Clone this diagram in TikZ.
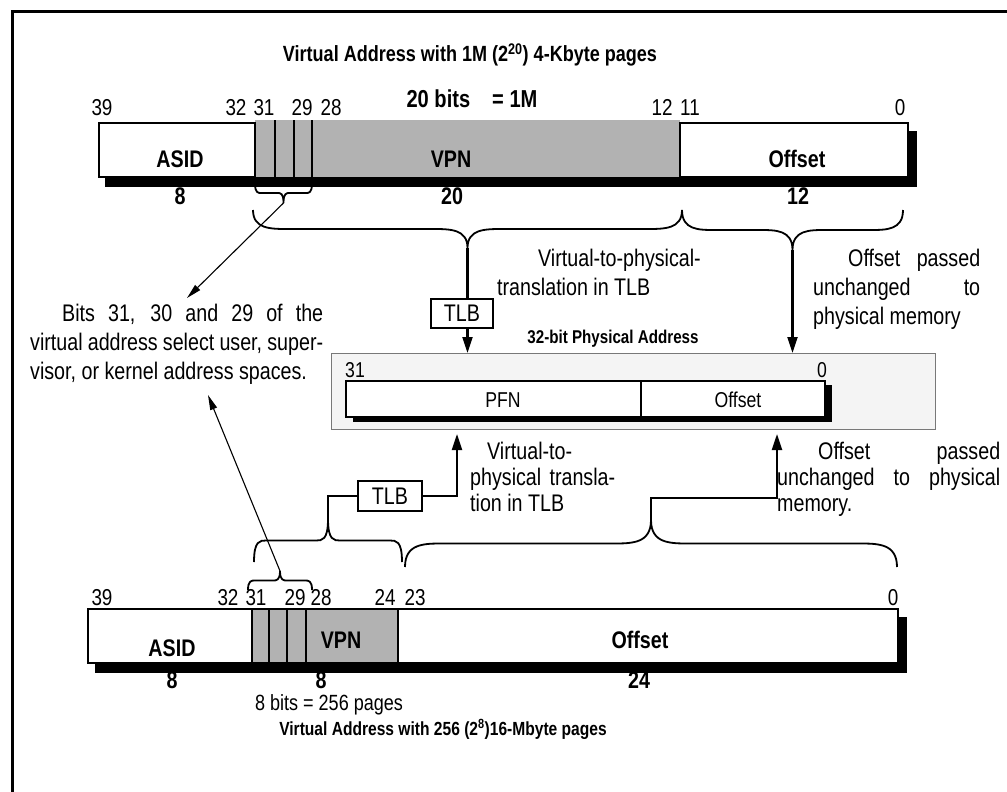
\documentclass[tikz,border=0pt]{standalone}
\usepackage{fontspec}
\setmainfont{Liberation Sans}[FakeStretch=0.82]
\usetikzlibrary{arrows.meta}
\definecolor{vpngray}{RGB}{178,178,178}
\definecolor{physfill}{RGB}{244,244,244}
\definecolor{physline}{RGB}{120,120,120}
\newcommand\fs[2]{\fontsize{#1}{#2}\selectfont}
% brace: x1, x2, yend, depth (signed), curve width, tip name
\newcommand\hbrace[6]{%
  \pgfmathsetmacro\bxm{(#1+#2)/2}%
  \pgfmathsetmacro\bym{#3+(#4)/2}%
  \pgfmathsetmacro\byt{#3+(#4)}%
  \draw[bracepath] (#1,#3) .. controls (#1,\bym) and ({#1+(#5)/2},\bym) .. ({#1+#5},\bym)
    -- ({\bxm-#5},\bym) .. controls ({\bxm-(#5)/2},\bym) and (\bxm,\bym) .. (\bxm,\byt)
    .. controls (\bxm,\bym) and ({\bxm+(#5)/2},\bym) .. ({\bxm+#5},\bym)
    -- ({#2-#5},\bym) .. controls ({#2-(#5)/2},\bym) and (#2,\bym) .. (#2,#3);
  \coordinate (#6) at (\bxm,\byt);}
\begin{document}
\begin{tikzpicture}[x=1pt,y=-1pt,
  field/.style={draw, line width=1.8, fill=white, anchor=north west, inner sep=0, outer sep=0},
  grayfield/.style={fill=vpngray, anchor=north west, inner sep=0, outer sep=0},
  divider/.style={line width=1.8},
  num/.style={anchor=base, inner sep=0, font=\fs{23}{27}},
  lab/.style={anchor=base, inner sep=0, font=\bfseries\fs{24}{28}},
  notetext/.style={anchor=north west, inner sep=0, align=left, font=\fs{24}{29}},
  tlbbox/.style={draw, line width=2, fill=white, inner sep=0, minimum width=62, minimum height=29, font=\fs{24}{28}},
  flow/.style={line width=2.2},
  arrowed/.style={-{Triangle[length=16pt,width=10pt]}},
  thinarrow/.style={line width=1.1, -{Triangle[length=15pt,width=7pt]}},
  bracepath/.style={line width=1.8},
  physlab/.style={anchor=base, inner sep=0, font=\fs{21.5}{25}}]
\useasboundingbox (0,0) rectangle (1007,792);
\fill[white] (0,0) rectangle (1007,792);
% outer frame (runs off the page on the right and bottom)
\draw[line width=3] (12,810) -- (12,11.5) -- (1015,11.5);

% ---------- top virtual address ----------
\node[anchor=base, inner sep=0, font=\bfseries\fs{22}{26}] (title1) at (470,62)
  {Virtual Address with 1M (2\textsuperscript{20}) 4-Kbyte pages};
\node[anchor=base, inner sep=0, font=\bfseries\fs{24.5}{28}] (bits1) at (472,107)
  {20 bits\hspace{22pt}= 1M};
\fill (105,131) rectangle (917,187);
\node[grayfield, minimum width=425, minimum height=57] (vpn1) at (255,120) {};
\foreach \x in {275,294,312} \draw[divider] (\x,120) -- (\x,177);
\node[field, minimum width=156, minimum height=54] (asid1) at (99,123) {};
\node[field, minimum width=228, minimum height=54] (off1) at (680,123) {};
\node[num] (n39a) at (102,115) {39};
\node[num] (n32a) at (236,115) {32};
\node[num] (n31a) at (264,115) {31};
\node[num] (n29a) at (302,115) {29};
\node[num] (n28a) at (331,115) {28};
\node[num] (n12a) at (662,115) {12};
\node[num] (n11a) at (690,115) {11};
\node[num] (n0a) at (900,115) {0};
\node[lab] (asidlab1) at (180,167) {ASID};
\node[lab] (vpnlab1) at (451,167) {VPN};
\node[lab] (offlab1) at (797,167) {Offset};
\node[lab] (w8a) at (180,204) {8};
\node[lab] (w20a) at (452,204) {20};
\node[lab] (w12a) at (798,204) {12};

\hbrace{255}{312}{183}{20}{6}{smalltip1}
\hbrace{253}{682}{210}{38}{35}{vpntip1}
\hbrace{682}{903}{210}{40}{33}{offtip1}

\node[tlbbox] (tlb1) at (462,313.5) {TLB};

% ---------- notes ----------
\node[notetext] (bitsnote) at (30,300.7)
  {\strut\hspace*{32pt}\makebox[261pt][s]{Bits 31, 30 and 29 of the}\\
   \makebox[293pt][s]{virtual address select user, super-}\\
   visor, or kernel address spaces.};
\node[notetext] (trnote1) at (497,245.7)
  {\strut\hspace*{41pt}Virtual-to-physical-\\ translation in TLB};
\node[notetext] (offnote1) at (813,245.7)
  {\strut\hspace*{35pt}\makebox[132pt][s]{Offset passed}\\
   \makebox[167pt][s]{unchanged to}\\ physical memory};

% ---------- physical address ----------
\node[anchor=base, inner sep=0, font=\bfseries\fs{18.5}{22}] (ptitle) at (613,343) {32-bit Physical Address};
\node[draw=physline, fill=physfill, line width=1, minimum width=604, minimum height=76,
      anchor=north west, inner sep=0, outer sep=0] (phys) at (331,353) {};
\fill (353,385) rectangle (832,422);
\node[field, minimum width=295, minimum height=36] (pfn) at (346,381) {};
\node[field, minimum width=184, minimum height=36] (poff) at (641,381) {};
\node[physlab] (p31) at (355,377) {31};
\node[physlab] (p0) at (822,377) {0};
\node[physlab] (pfnlab) at (503,407) {PFN};
\node[physlab] (pofflab) at (738,407) {Offset};

% top connectors
\draw[flow] (vpntip1) -- (vpntip1 |- tlb1.north);
\draw[flow, arrowed] (vpntip1 |- tlb1.south) -- (vpntip1 |- phys.north);
\draw[flow, arrowed] (offtip1) -- (offtip1 |- phys.north);
\coordinate (bitsin1) at (187,298);
\draw[thinarrow] (smalltip1) -- (bitsin1);

% ---------- bottom virtual address ----------
\fill (95,617) rectangle (907,673);
\node[field, minimum width=164, minimum height=54] (asid2) at (88,609) {};
\node[field, fill=vpngray, minimum width=146, minimum height=54] (vpn2) at (252,609) {};
\foreach \x in {269,287,306} \draw[divider] (\x,609) -- (\x,663);
\node[field, minimum width=500, minimum height=54] (off2) at (398,609) {};
\node[num] (n39b) at (102,605) {39};
\node[num] (n32b) at (228,605) {32};
\node[num] (n31b) at (256,605) {31};
\node[num] (n29b) at (295,605) {29};
\node[num] (n28b) at (321,605) {28};
\node[num] (n24b) at (385,605) {24};
\node[num] (n23b) at (415,605) {23};
\node[num] (n0b) at (893,605) {0};
\node[lab] (asidlab2) at (172,656) {ASID};
\node[lab] (vpnlab2) at (341,648) {VPN};
\node[lab] (offlab2) at (640,648) {Offset};
\node[lab] (w8b) at (172,688) {8};
\node[lab] (w8c) at (321,688) {8};
\node[lab] (w24b) at (639,688) {24};
\node[anchor=base, inner sep=0, font=\fs{22}{26}] (bitsnote2) at (329,710) {8 bits = 256 pages};
\node[anchor=base, inner sep=0, font=\bfseries\fs{19}{22}] (title2) at (443,735)
  {Virtual Address with 256 (2\textsuperscript{8})16-Mbyte pages};

\hbrace{248}{312}{590}{-19}{7}{smalltip2}
\hbrace{254}{402}{562}{-43}{12}{vpntip2}
\hbrace{405}{897}{567}{-47}{38}{offtip2}

\node[tlbbox, minimum width=64, minimum height=30] (tlb2) at (390,496) {TLB};
\node[notetext, font=\fs{24}{26}] (trnote2) at (470,441.2)
  {\strut\hspace*{17pt}Virtual-to-\\ \makebox[145pt][s]{physical transla-}\\ tion in TLB};
\node[notetext, font=\fs{24}{26}] (offnote2) at (777,441.2)
  {\strut\hspace*{41pt}\makebox[182pt][s]{Offset passed}\\
   \makebox[223pt][s]{unchanged to physical}\\ memory.};

\coordinate (pin1) at (457,434);
\coordinate (pin2) at (777,434);
\draw[flow] (vpntip2) |- (tlb2.west);
\draw[flow, arrowed] (tlb2.east) -| (pin1);
\draw[flow, arrowed] (offtip2) -- ++(0,-22) -| (pin2);
\coordinate (bitsin2) at (208,395);
\draw[thinarrow] (smalltip2) -- (bitsin2);
\end{tikzpicture}
\end{document}
